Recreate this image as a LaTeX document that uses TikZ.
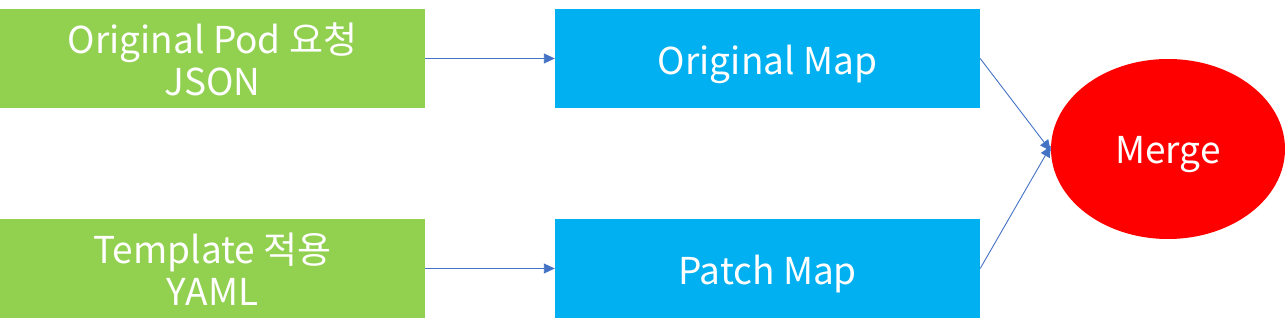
\documentclass[tikz,border=0pt]{standalone}
\usepackage{fontspec}
\setmainfont{Noto Sans CJK KR}
\usetikzlibrary{shapes.geometric,arrows.meta}
\definecolor{boxgreen}{HTML}{92D050}
\definecolor{boxblue}{HTML}{00B0F0}
\definecolor{mergered}{HTML}{FF0000}
\definecolor{arrowblue}{HTML}{4472C4}
\tikzset{
  lbl/.style={text=white, align=center, font=\fontsize{37}{42}\selectfont, inner sep=0pt, yshift=-6pt},
  lbltwo/.style={lbl, yshift=5pt},
  srcbox/.style={rectangle, fill=boxgreen, minimum width=425pt, minimum height=99pt, inner sep=0pt},
  mapbox/.style={rectangle, fill=boxblue, minimum width=425pt, minimum height=99pt, inner sep=0pt},
  mergenode/.style={ellipse, fill=mergered, minimum width=234pt, minimum height=180pt, inner sep=0pt},
  conn/.style={draw=arrowblue, line width=0.9pt, -{Triangle[length=11pt,width=10pt]}}
}
\begin{document}
\begin{tikzpicture}[x=1pt,y=-1pt]
\useasboundingbox (0,0) rectangle (1285,336);
\node[srcbox, label={[lbltwo]center:Original Pod 요청\\JSON}] (orig) at (212.5,58.5) {};
\node[srcbox, label={[lbltwo]center:Template 적용\\YAML}] (tmpl) at (212.5,268.5) {};
\node[mapbox, label={[lbl]center:Original Map}] (omap) at (767.5,58.5) {};
\node[mapbox, label={[lbl]center:Patch Map}] (pmap) at (767.5,268.5) {};
\node[mergenode, label={[lbl]center:Merge}] (merge) at (1168,149) {};
\draw[conn] (orig.east) -- (omap.west);
\draw[conn] (tmpl.east) -- (pmap.west);
\draw[conn] (omap.east) -- ([yshift=-2pt]merge.west);
\draw[conn] (pmap.east) -- ([yshift=3pt]merge.west);
\end{tikzpicture}
\end{document}
